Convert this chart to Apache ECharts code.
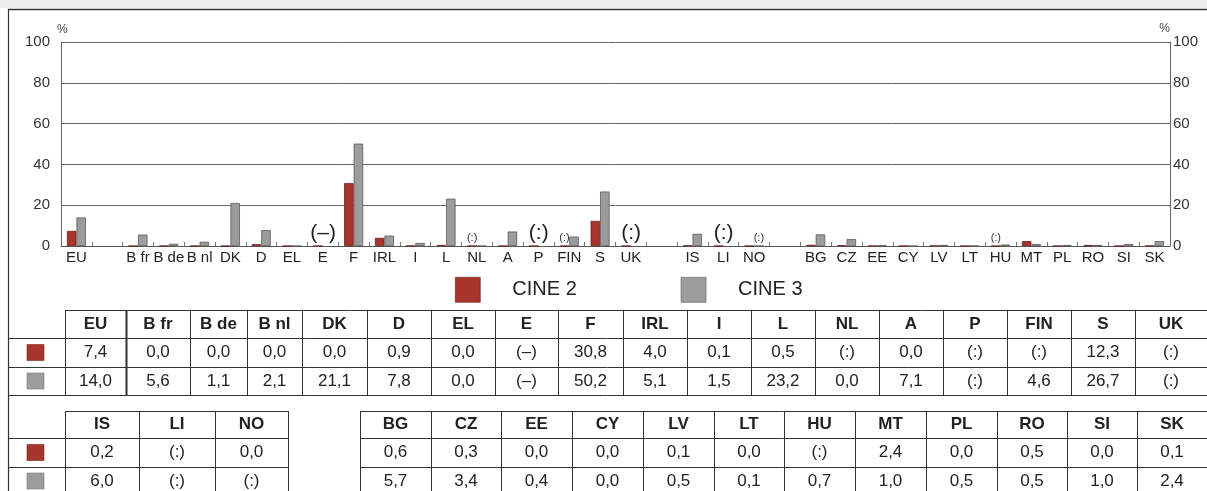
<!DOCTYPE html>
<html>
<head>
<meta charset="utf-8">
<script src="https://cdn.jsdelivr.net/npm/echarts@6/dist/echarts.min.js"></script>
<style>
  html, body { margin: 0; padding: 0; background: #fff; }
  #chart { width: 1207px; height: 491px; }
</style>
</head>
<body>
<div id="chart"></div>
<script>
// country groups, in chart order
const euLabels = ['EU'];
const eu15Labels = ['B fr', 'B de', 'B nl', 'DK', 'D', 'EL', 'E', 'F', 'IRL', 'I', 'L', 'NL', 'A', 'P', 'FIN', 'S', 'UK'];
const eftaLabels = ['IS', 'LI', 'NO'];
const newLabels = ['BG', 'CZ', 'EE', 'CY', 'LV', 'LT', 'HU', 'MT', 'PL', 'RO', 'SI', 'SK'];

// values in %, '(:)' not available, '(–)' not applicable
const cine2Eu = [7.4];
const cine3Eu = [14.0];
const cine2Eu15 = [0.0, 0.0, 0.0, 0.0, 0.9, 0.0, '(–)', 30.8, 4.0, 0.1, 0.5, '(:)', 0.0, '(:)', '(:)', 12.3, '(:)'];
const cine3Eu15 = [5.6, 1.1, 2.1, 21.1, 7.8, 0.0, '(–)', 50.2, 5.1, 1.5, 23.2, 0.0, 7.1, '(:)', 4.6, 26.7, '(:)'];
const cine2Efta = [0.2, '(:)', 0.0];
const cine3Efta = [6.0, '(:)', '(:)'];
const cine2New = [0.6, 0.3, 0.0, 0.0, 0.1, 0.0, '(:)', 2.4, 0.0, 0.5, 0.0, 0.1];
const cine3New = [5.7, 3.4, 0.4, 0.0, 0.5, 0.1, 0.7, 1.0, 0.5, 0.5, 1.0, 2.4];

const yTicks = [0, 20, 40, 60, 80, 100];
const seriesNames = ['CINE 2', 'CINE 3'];

// colours / layout
const RED = '#a8352b';
const GREY = '#9c9c9c';
const FONT = '"Liberation Sans", Arial, sans-serif';
const LINE = '#333';
const table1Edges = [65, 126, 190, 247, 302, 367, 431, 495, 558, 623, 687, 751, 815, 879, 943, 1007, 1071, 1135, 1207];
const eftaEdges = [65, 139, 215, 288];
const newEdges = [360, 431, 501, 572, 643, 714, 784, 855, 926, 997, 1067, 1137, 1207];
const table1Rows = [310, 338, 367, 395];
const table2Rows = [411, 438, 467, 495];

// category slots with blank gaps between groups
const categories = [...euLabels, ' ', ...eu15Labels, '  ', ...eftaLabels, '   ', ...newLabels];
const gap = null;
const c2All = [...cine2Eu, gap, ...cine2Eu15, gap, ...cine2Efta, gap, ...cine2New];
const c3All = [...cine3Eu, gap, ...cine3Eu15, gap, ...cine3Efta, gap, ...cine3New];

const isMissing = v => typeof v === 'string';

function barData(vals, other, isFirst) {
  return vals.map((v, i) => {
    if (v === null) return '-';
    if (!isMissing(v)) return v;
    if (isMissing(other[i])) {
      // both missing: one big mark centred on the category
      if (!isFirst) return '-';
      return {
        value: 0,
        label: { show: true, formatter: v, fontSize: 21, offset: [5, 0], color: '#222' }
      };
    }
    return {
      value: 0,
      label: { show: true, formatter: v, fontSize: 11, color: '#333' }
    };
  });
}

const fmt = v => isMissing(v) ? v : v.toFixed(1).replace('.', ',');

function hLine(x1, x2, y, w) {
  return { type: 'line', shape: { x1, y1: y + 0.5, x2, y2: y + 0.5 }, style: { stroke: LINE, lineWidth: w || 1 }, silent: true };
}
function vLine(x, y1, y2, w) {
  return { type: 'line', shape: { x1: x + 0.5, y1, x2: x + 0.5, y2 }, style: { stroke: LINE, lineWidth: w || 1 }, silent: true };
}
function cellText(text, cx, cy, bold) {
  return {
    type: 'text', x: cx, y: cy, silent: true,
    style: { text, fontSize: 17, fontFamily: FONT, fontWeight: bold ? 'bold' : 'normal', fill: '#222', align: 'center', verticalAlign: 'middle' }
  };
}
function marker(color, cy) {
  return { type: 'rect', shape: { x: 27, y: cy - 8, width: 17, height: 16 }, style: { fill: color, stroke: color === RED ? '#7a231c' : '#7a7a7a', lineWidth: 0.6 }, silent: true };
}

function buildTable(blocks, rows) {
  const els = [];
  const mid = k => (rows[k] + rows[k + 1]) / 2;
  blocks.forEach((b, bi) => {
    const start = b.edges[0], end = b.edges[b.edges.length - 1];
    els.push(hLine(start, end, rows[0]));
    for (let k = 1; k < rows.length; k++) {
      els.push(hLine(bi === 0 ? 8 : start, end, rows[k]));
    }
    b.edges.forEach((x, j) => els.push(vLine(x, rows[0], rows[3], b.thick && j === 1 ? 2 : 1)));
    b.names.forEach((n, j) => {
      const cx = (b.edges[j] + b.edges[j + 1]) / 2;
      els.push(cellText(n, cx, mid(0), true));
      els.push(cellText(fmt(b.c2[j]), cx, mid(1)));
      els.push(cellText(fmt(b.c3[j]), cx, mid(2)));
    });
  });
  els.push(marker(RED, mid(1)));
  els.push(marker(GREY, mid(2)));
  return els;
}

const graphics = [
  { type: 'rect', shape: { x: 0, y: 0, width: 1207, height: 8 }, style: { fill: '#ececec' }, silent: true },
  hLine(8, 1207, 9, 1.5),
  vLine(8, 9, 491, 1.2),
  ...buildTable([
    { names: [...euLabels, ...eu15Labels], c2: [...cine2Eu, ...cine2Eu15], c3: [...cine3Eu, ...cine3Eu15], edges: table1Edges, thick: true }
  ], table1Rows),
  ...buildTable([
    { names: eftaLabels, c2: cine2Efta, c3: cine3Efta, edges: eftaEdges },
    { names: newLabels, c2: cine2New, c3: cine3New, edges: newEdges }
  ], table2Rows)
];

const chart = echarts.init(document.getElementById('chart'));
const yBase = {
  type: 'value',
  min: yTicks[0],
  max: yTicks[yTicks.length - 1],
  interval: yTicks[1] - yTicks[0],
  name: '%',
  nameGap: 6,
  axisLine: { show: true, lineStyle: { color: '#666', width: 1 } },
  axisTick: { show: false },
  axisLabel: { fontSize: 15, fontFamily: FONT, color: '#333' }
};

const option = {
  animation: false,
  backgroundColor: '#fff',
  textStyle: { fontFamily: FONT },
  grid: { left: 61, right: 37, top: 42, bottom: 245, containLabel: false },
  legend: {
    data: seriesNames,
    left: 455,
    top: 277,
    padding: 0,
    icon: 'rect',
    itemWidth: 25,
    itemHeight: 25,
    itemGap: 104,
    selectedMode: false,
    itemStyle: { borderWidth: 0.6 },
    textStyle: { fontSize: 20, fontFamily: FONT, color: '#222', padding: [0, 0, 0, 27] }
  },
  xAxis: {
    type: 'category',
    data: categories,
    axisLine: { lineStyle: { color: '#555', width: 1 } },
    axisTick: { show: true, inside: true, length: 4, interval: 0, lineStyle: { color: '#777' } },
    axisLabel: { interval: 0, fontSize: 15, fontFamily: FONT, color: '#222', margin: 4 }
  },
  yAxis: [
    Object.assign({}, yBase, {
      position: 'left',
      nameTextStyle: { fontSize: 12, color: '#444', align: 'left', padding: [0, 0, 0, -4] },
      axisLabel: Object.assign({}, yBase.axisLabel, { margin: 11 }),
      splitLine: { show: true, lineStyle: { color: '#666', width: 1 } }
    }),
    Object.assign({}, yBase, {
      position: 'right',
      nameTextStyle: { fontSize: 12, color: '#444', align: 'right' },
      axisLabel: Object.assign({}, yBase.axisLabel, { margin: 3 }),
      splitLine: { show: false }
    })
  ],
  series: [
    {
      name: seriesNames[0],
      type: 'bar',
      barWidth: 9.5,
      barGap: '0%',
      data: barData(c2All, c3All, true),
      itemStyle: { color: RED, borderColor: '#6e1f18', borderWidth: 0.8 },
      label: { position: 'top', distance: 2, fontFamily: FONT }
    },
    {
      name: seriesNames[1],
      type: 'bar',
      barWidth: 9.5,
      data: barData(c3All, c2All, false),
      itemStyle: { color: GREY, borderColor: '#5c5c5c', borderWidth: 0.8 },
      label: { position: 'top', distance: 2, fontFamily: FONT }
    }
  ],
  graphic: graphics
};
chart.setOption(option);
</script>
</body>
</html>
